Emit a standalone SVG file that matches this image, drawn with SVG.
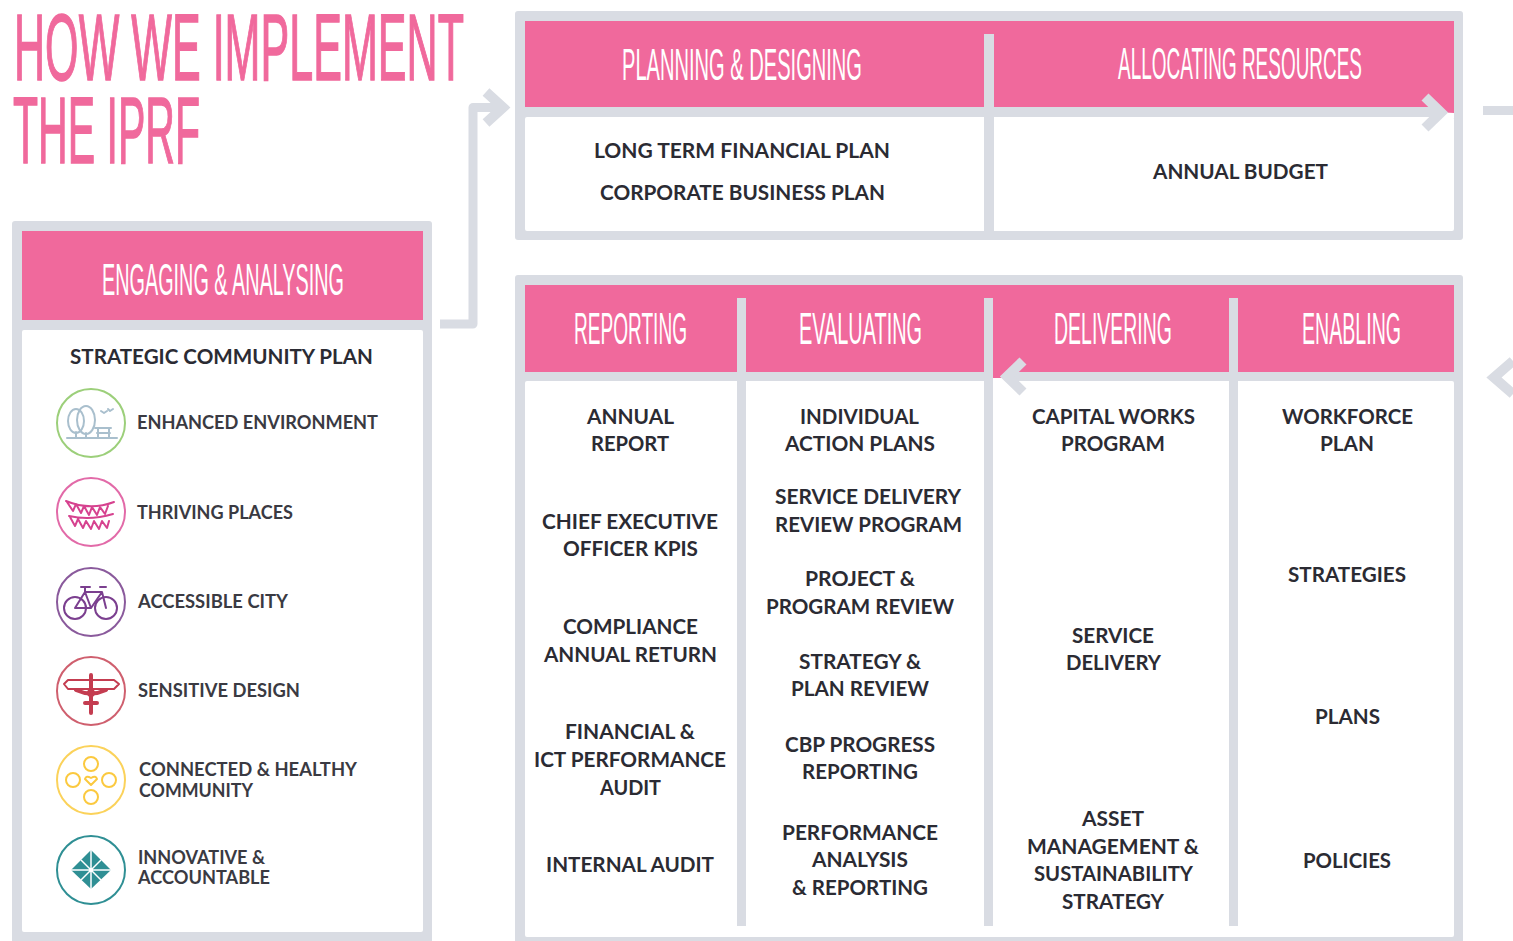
<svg xmlns="http://www.w3.org/2000/svg" width="1513" height="941" viewBox="0 0 1513 941">
<style>
.bar{fill:#d9dce3}
.pink{fill:#f0699c}
.white{fill:#fff}
text{font-family:"Lato","Liberation Sans",sans-serif;font-weight:700;fill:#2b2b33;font-size:20px}
.sm{font-size:19px;fill:#3a3a42}
.hd,.ttl{font-family:"Liberation Sans Narrow","Liberation Sans",sans-serif;font-weight:400}
.hd{font-size:44px;fill:#fff}
.ttl{font-size:95px;fill:#f0699c;stroke:#f0699c;stroke-width:1.5px}
.conn{fill:none;stroke:#d9dce3;stroke-width:9;stroke-linejoin:round}
.head{fill:none;stroke:#d9dce3;stroke-width:10}
.ring{fill:none;stroke-width:2}
.ic{fill:none;stroke-width:2;stroke-linecap:round;stroke-linejoin:round}
</style>
<g id="title">
<text class="ttl" x="14" y="80" textLength="450" lengthAdjust="spacingAndGlyphs">HOW WE IMPLEMENT</text>
<text class="ttl" x="13" y="163" textLength="187" lengthAdjust="spacingAndGlyphs">THE IPRF</text>
</g>
<g id="connectors">
<path class="conn" d="M440 324H473V107.500H503"/>
<path class="head" d="M486 92L503 107.500L486 123"/>
<path class="conn" d="M1483 110.500H1513"/>
<path class="head" d="M1513 361L1494 377.500L1513 394"/>
</g>
<g id="node-engaging">
<rect class="bar" x="12" y="221" width="420" height="725" rx="3"/>
<rect class="pink" x="22" y="231" width="401" height="89"/>
<rect class="white" x="22" y="330" width="401" height="602" rx="2"/>
<text class="hd" x="102" y="295" textLength="242" lengthAdjust="spacingAndGlyphs">ENGAGING &amp; ANALYSING</text>
<text x="70" y="364" textLength="303" lengthAdjust="spacingAndGlyphs">STRATEGIC COMMUNITY PLAN</text>
<g id="item-environment">
<circle class="ring" cx="91" cy="423" r="34" stroke="#9ccf7a"/>
<g class="ic" stroke="#a9bfcd" stroke-width="1.500">
<ellipse cx="76" cy="421" rx="8" ry="12"/><ellipse cx="86" cy="420" rx="9" ry="14"/>
<path d="M67 438H117M76 432V438M86 433V438M95 428H111M97 433H110M98 428V438M109 428V438"/>
<path d="M101 411l3 2 3-2M108 409l2 2 3-2"/>
</g>
<text class="sm" x="137" y="429" textLength="241" lengthAdjust="spacingAndGlyphs">ENHANCED ENVIRONMENT</text>
</g>
<g id="item-places">
<circle class="ring" cx="91" cy="512" r="34" stroke="#e26aa8"/>
<path class="ic" stroke="#d6428f" d="M66 501Q90 511 114 502M69 516Q90 521 113 514M67 502l6 9 3-7 5 9 3-7 5 9 3-8 5 8 3-8 5 7 3-8M70 517l5 9 3-7 5 9 3-7 5 8 3-8 5 8 3-8 5 7 2-7"/>
<text class="sm" x="137" y="519" textLength="156" lengthAdjust="spacingAndGlyphs">THRIVING PLACES</text>
</g>
<g id="item-city">
<circle class="ring" cx="91" cy="602" r="34" stroke="#8a5a9c"/>
<g class="ic" stroke="#7b3f8f" stroke-width="2.500">
<circle cx="75" cy="608" r="11"/><circle cx="106" cy="608" r="11"/>
<path d="M75 608L85 592H102L106 608M85 592L91 608H75M91 608L102 592M81 587H90M85 587V592M100 587H106"/>
</g>
<text class="sm" x="138" y="608" textLength="150" lengthAdjust="spacingAndGlyphs">ACCESSIBLE CITY</text>
</g>
<g id="item-design">
<circle class="ring" cx="91" cy="691" r="34" stroke="#cf5f6e"/>
<g class="ic" stroke="#c43c50">
<path d="M64 684L68 680H114L119 684L114 689H68Z"/>
<path stroke-width="4" d="M91 675V713M76 690Q91 697 106 690M85 703H97"/>
<circle cx="91" cy="693" r="3"/>
</g>
<text class="sm" x="138" y="697" textLength="162" lengthAdjust="spacingAndGlyphs">SENSITIVE DESIGN</text>
</g>
<g id="item-community">
<circle class="ring" cx="91" cy="780" r="34" stroke="#fbd25a"/>
<g class="ic" stroke="#fbc93f">
<circle cx="91" cy="764" r="7"/><circle cx="73" cy="780" r="7"/><circle cx="109" cy="780" r="7"/><circle cx="91" cy="797" r="7"/>
<path d="M91 785L85 779Q86 775 91 778Q96 775 97 779Z"/>
</g>
<text class="sm" x="139" y="776" textLength="218" lengthAdjust="spacingAndGlyphs">CONNECTED &amp; HEALTHY</text>
<text class="sm" x="139" y="797" textLength="114" lengthAdjust="spacingAndGlyphs">COMMUNITY</text>
</g>
<g id="item-accountable">
<circle class="ring" cx="91" cy="870" r="34" stroke="#2f8f94"/>
<path fill="#2f8f94" d="M91 850L111 870L91 889L71 870Z"/>
<path stroke="#fff" stroke-width="1.500" fill="none" d="M91 850V889M71 870H111M81 860L101 880M101 860L81 880"/>
<text class="sm" x="138" y="864" textLength="127" lengthAdjust="spacingAndGlyphs">INNOVATIVE &amp;</text>
<text class="sm" x="138" y="884" textLength="132" lengthAdjust="spacingAndGlyphs">ACCOUNTABLE</text>
</g>
</g>
<g id="node-top">
<rect class="bar" x="515" y="11" width="948" height="229" rx="3"/>
<rect class="pink" x="525" y="21" width="929" height="86"/>
<path class="pink" d="M1430 107H1454V113H1445Z"/>
<rect class="white" x="525" y="117" width="929" height="114" rx="2"/>
<path class="white" d="M1445 112.500L1454 113V118H1440Z"/>
<rect class="bar" x="984" y="34" width="10" height="198"/>
<path class="head" d="M1425 97L1441 112.500L1425 128"/>
<text class="hd" x="622" y="80" textLength="240" lengthAdjust="spacingAndGlyphs">PLANNING &amp; DESIGNING</text>
<text class="hd" x="1118" y="79" textLength="244" lengthAdjust="spacingAndGlyphs">ALLOCATING RESOURCES</text>
<text x="594" y="158" textLength="296" lengthAdjust="spacingAndGlyphs">LONG TERM FINANCIAL PLAN</text>
<text x="600" y="200" textLength="285" lengthAdjust="spacingAndGlyphs">CORPORATE BUSINESS PLAN</text>
<text x="1153" y="179" textLength="175" lengthAdjust="spacingAndGlyphs">ANNUAL BUDGET</text>
</g>
<g id="node-bottom">
<rect class="bar" x="515" y="275" width="948" height="675" rx="3"/>
<rect class="pink" x="525" y="285" width="929" height="87"/>
<path class="pink" d="M993 372H1018L1003 378H993Z"/>
<rect class="white" x="525" y="381" width="929" height="556" rx="2"/>
<path class="white" d="M993 378H1003L1014 381H993Z"/>
<rect class="bar" x="737" y="298" width="9" height="628"/>
<rect class="bar" x="984" y="298" width="9" height="628"/>
<rect class="bar" x="1229" y="298" width="9" height="628"/>
<path class="head" d="M1023 361L1007 376.500L1023 392"/>
<text class="hd" x="574" y="344" textLength="113" lengthAdjust="spacingAndGlyphs">REPORTING</text>
<text class="hd" x="799" y="344" textLength="123" lengthAdjust="spacingAndGlyphs">EVALUATING</text>
<text class="hd" x="1054" y="344" textLength="118" lengthAdjust="spacingAndGlyphs">DELIVERING</text>
<text class="hd" x="1302" y="344" textLength="99" lengthAdjust="spacingAndGlyphs">ENABLING</text>
<g id="col-reporting">
<text x="587" y="424" textLength="87" lengthAdjust="spacingAndGlyphs">ANNUAL</text>
<text x="591" y="451" textLength="78" lengthAdjust="spacingAndGlyphs">REPORT</text>
<text x="542" y="529" textLength="176" lengthAdjust="spacingAndGlyphs">CHIEF EXECUTIVE</text>
<text x="563" y="556" textLength="135" lengthAdjust="spacingAndGlyphs">OFFICER KPIS</text>
<text x="563" y="634" textLength="135" lengthAdjust="spacingAndGlyphs">COMPLIANCE</text>
<text x="544" y="662" textLength="173" lengthAdjust="spacingAndGlyphs">ANNUAL RETURN</text>
<text x="565" y="739" textLength="130" lengthAdjust="spacingAndGlyphs">FINANCIAL &amp;</text>
<text x="534" y="767" textLength="192" lengthAdjust="spacingAndGlyphs">ICT PERFORMANCE</text>
<text x="600" y="795" textLength="61" lengthAdjust="spacingAndGlyphs">AUDIT</text>
<text x="546" y="872" textLength="168" lengthAdjust="spacingAndGlyphs">INTERNAL AUDIT</text>
</g>
<g id="col-evaluating">
<text x="800" y="424" textLength="119" lengthAdjust="spacingAndGlyphs">INDIVIDUAL</text>
<text x="785" y="451" textLength="150" lengthAdjust="spacingAndGlyphs">ACTION PLANS</text>
<text x="775" y="504" textLength="186" lengthAdjust="spacingAndGlyphs">SERVICE DELIVERY</text>
<text x="775" y="532" textLength="187" lengthAdjust="spacingAndGlyphs">REVIEW PROGRAM</text>
<text x="805" y="586" textLength="110" lengthAdjust="spacingAndGlyphs">PROJECT &amp;</text>
<text x="766" y="614" textLength="188" lengthAdjust="spacingAndGlyphs">PROGRAM REVIEW</text>
<text x="799" y="669" textLength="122" lengthAdjust="spacingAndGlyphs">STRATEGY &amp;</text>
<text x="791" y="696" textLength="138" lengthAdjust="spacingAndGlyphs">PLAN REVIEW</text>
<text x="785" y="752" textLength="150" lengthAdjust="spacingAndGlyphs">CBP PROGRESS</text>
<text x="802" y="779" textLength="116" lengthAdjust="spacingAndGlyphs">REPORTING</text>
<text x="782" y="840" textLength="156" lengthAdjust="spacingAndGlyphs">PERFORMANCE</text>
<text x="812" y="867" textLength="96" lengthAdjust="spacingAndGlyphs">ANALYSIS</text>
<text x="792" y="895" textLength="136" lengthAdjust="spacingAndGlyphs">&amp; REPORTING</text>
</g>
<g id="col-delivering">
<text x="1032" y="424" textLength="163" lengthAdjust="spacingAndGlyphs">CAPITAL WORKS</text>
<text x="1061" y="451" textLength="104" lengthAdjust="spacingAndGlyphs">PROGRAM</text>
<text x="1072" y="643" textLength="82" lengthAdjust="spacingAndGlyphs">SERVICE</text>
<text x="1066" y="670" textLength="95" lengthAdjust="spacingAndGlyphs">DELIVERY</text>
<text x="1082" y="826" textLength="62" lengthAdjust="spacingAndGlyphs">ASSET</text>
<text x="1027" y="854" textLength="172" lengthAdjust="spacingAndGlyphs">MANAGEMENT &amp;</text>
<text x="1034" y="881" textLength="159" lengthAdjust="spacingAndGlyphs">SUSTAINABILITY</text>
<text x="1062" y="909" textLength="102" lengthAdjust="spacingAndGlyphs">STRATEGY</text>
</g>
<g id="col-enabling">
<text x="1282" y="424" textLength="131" lengthAdjust="spacingAndGlyphs">WORKFORCE</text>
<text x="1320" y="451" textLength="54" lengthAdjust="spacingAndGlyphs">PLAN</text>
<text x="1288" y="582" textLength="118" lengthAdjust="spacingAndGlyphs">STRATEGIES</text>
<text x="1315" y="724" textLength="65" lengthAdjust="spacingAndGlyphs">PLANS</text>
<text x="1303" y="868" textLength="88" lengthAdjust="spacingAndGlyphs">POLICIES</text>
</g>
</g>
</svg>
